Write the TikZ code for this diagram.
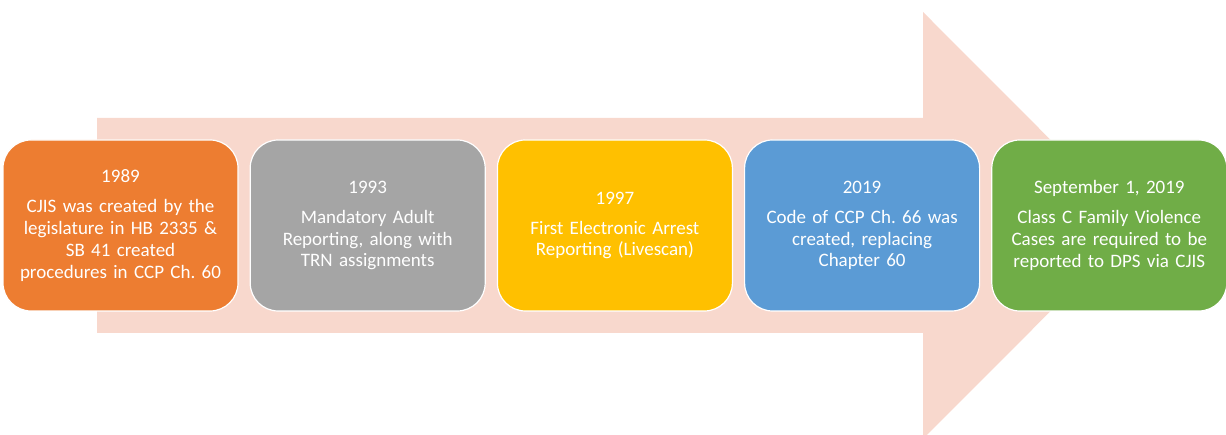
\documentclass[tikz,border=0pt]{standalone}
\usepackage{fontspec}
\setmainfont{Carlito}
\usepackage{tikz}
\definecolor{arrowpink}{HTML}{F8D8CD}
\definecolor{officeorange}{HTML}{ED7D31}
\definecolor{officegray}{HTML}{A5A5A5}
\definecolor{officegold}{HTML}{FFC000}
\definecolor{officeblue}{HTML}{5B9BD5}
\definecolor{officegreen}{HTML}{70AD47}
\usetikzlibrary{positioning}
\frenchspacing

\begin{document}
\begin{tikzpicture}[x=1pt,y=1pt]
                    \tikzstyle{every node}=[font=\fontsize{19pt}{21.7pt}\selectfont]
                    \tikzstyle{event} = [rectangle, rounded corners=28pt, draw=white, line width=1.2pt, text=white, minimum width=235pt, minimum height=171pt, text width=228pt, align=center, inner sep=0pt]
                    \tikzstyle{year} = [node distance=11pt]

                    \useasboundingbox (0,0) rectangle (1226,435);
                    % big background arrow
                    \fill[arrowpink] (97,317) -- (923,317) -- (923,423) -- (1136,209.5) -- (923,-4) -- (923,102) -- (97,102) -- cycle;

                    \node[event, fill=officeorange](e1989) at (120.5,209.5) {1989\\[8.3pt]CJIS was created by the legislature in HB 2335 \&\\SB 41 created\\procedures in CCP Ch. 60};
                    \node[event, fill=officegray, year, right=of e1989](e1993) {1993\\[8.3pt]Mandatory Adult\\Reporting, along with\\TRN assignments};
                    \node[event, fill=officegold, year, right=of e1993](e1997) {1997\\[8.3pt]First Electronic Arrest\\Reporting (Livescan)};
                    \node[event, fill=officeblue, year, right=of e1997](e2019) {2019\\[8.3pt]Code of CCP Ch. 66 was\\created, replacing\\Chapter 60};
                    \node[event, fill=officegreen, year, right=of e2019](sep2019) {September 1, 2019\\[8.3pt]Class C Family Violence\\Cases are required to be\\reported to DPS via CJIS};

\end{tikzpicture}
\end{document}
